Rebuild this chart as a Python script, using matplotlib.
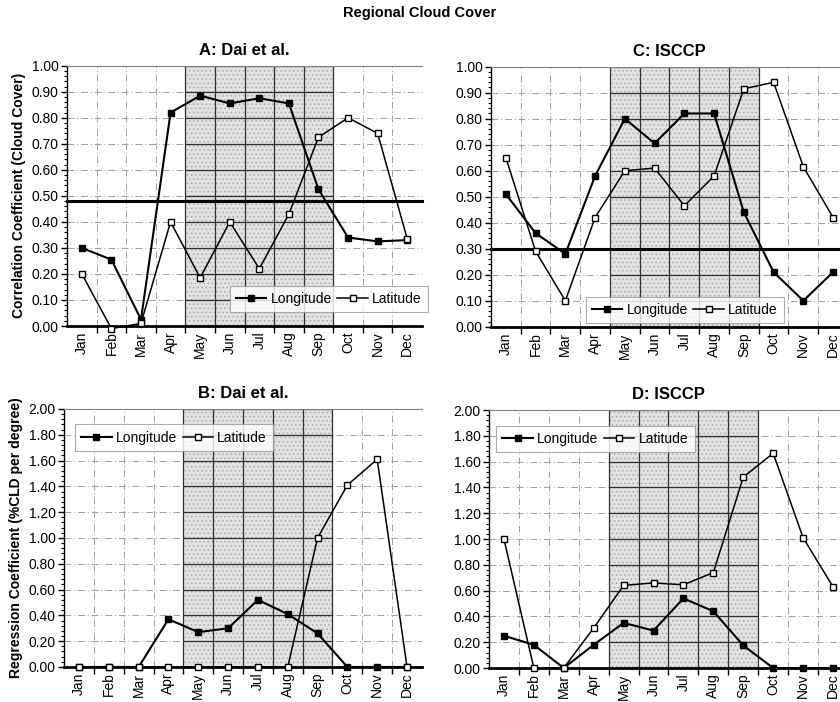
import numpy as np
import matplotlib
matplotlib.use("Agg")
import matplotlib.pyplot as plt
from matplotlib.ticker import MultipleLocator, FixedLocator

plt.rcParams['font.family'] = ['Liberation Sans', 'DejaVu Sans']
plt.rcParams['hatch.color'] = '#9a9a9a'
plt.rcParams['hatch.linewidth'] = 0.6

months = ['Jan', 'Feb', 'Mar', 'Apr', 'May', 'Jun', 'Jul', 'Aug', 'Sep', 'Oct', 'Nov', 'Dec']

# A: Dai et al. correlation
dai_corr_lon = [0.30, 0.255, 0.025, 0.82, 0.885, 0.855, 0.875, 0.855, 0.525, 0.34, 0.325, 0.33]
dai_corr_lat = [0.20, -0.01, 0.01, 0.40, 0.185, 0.40, 0.22, 0.43, 0.725, 0.80, 0.74, 0.335]
# C: ISCCP correlation
isccp_corr_lon = [0.51, 0.36, 0.28, 0.58, 0.80, 0.705, 0.82, 0.82, 0.44, 0.21, 0.10, 0.21]
isccp_corr_lat = [0.65, 0.29, 0.10, 0.42, 0.60, 0.61, 0.465, 0.58, 0.915, 0.94, 0.615, 0.42]
# B: Dai et al. regression
dai_reg_lon = [0.0, 0.0, 0.0, 0.37, 0.27, 0.30, 0.52, 0.41, 0.26, 0.0, 0.0, 0.0]
dai_reg_lat = [0.0, 0.0, 0.0, 0.0, 0.0, 0.0, 0.0, 0.0, 1.00, 1.41, 1.61, 0.0]
# D: ISCCP regression
isccp_reg_lon = [0.25, 0.18, 0.0, 0.18, 0.35, 0.29, 0.54, 0.44, 0.175, 0.0, 0.0, 0.0]
isccp_reg_lat = [1.00, 0.0, 0.0, 0.31, 0.64, 0.66, 0.645, 0.74, 1.48, 1.665, 1.01, 0.63]

# significance thresholds on the correlation panels
dai_sig = 0.48
isccp_sig = 0.30

season = (3.5, 8.5)  # May..Sep shaded

fig = plt.figure(figsize=(8.4, 7.02), dpi=100)
fig.text(0.5, 0.981, 'Regional Cloud Cover', ha='center', va='center',
         fontsize=10.5, fontweight='bold')

# axes positions in figure fractions (right side runs off the page like the scan)
axA = fig.add_axes([0.0798, 0.5356, 0.4226, 0.3708])
axC = fig.add_axes([0.5845, 0.5346, 0.4250, 0.3704])
axB = fig.add_axes([0.0763, 0.0499, 0.4260, 0.3675])
axD = fig.add_axes([0.5821, 0.0484, 0.4274, 0.3675])


def panel(ax, title, lon, lat, ymax, ystep, minor, sig=None, legend_loc=None, ylabel=None):
    x = np.arange(len(months))
    ax.set_xlim(-0.5, 11.5)
    ax.set_ylim(0, ymax)

    # shaded season with stipple
    ax.axvspan(*season, facecolor='#e2e2e2', edgecolor='#a8a8a8', hatch='....',
               linewidth=0, zorder=0)

    # dash-dot grid outside the season, solid inside
    yticks = np.arange(0, ymax + 1e-9, ystep)
    bounds = np.arange(0.5, 11.5, 1.0)
    for yv in yticks[1:]:
        ax.axhline(yv, color='#a0a0a0', lw=0.7, ls=(0, (7, 3, 1, 3)), zorder=1)
        ax.hlines(yv, season[0], season[1], color='#303030', lw=0.9, zorder=1.5)
    for xv in bounds:
        if season[0] <= xv <= season[1]:
            ax.axvline(xv, color='#303030', lw=0.9, zorder=1.5)
        else:
            ax.axvline(xv, color='#a0a0a0', lw=0.7, ls=(0, (7, 3, 1, 3)), zorder=1)

    if sig is not None:
        ax.axhline(sig, color='black', lw=2.2, zorder=3, clip_on=False)

    ax.plot(x, lon, color='black', lw=1.5, marker='s', ms=5, mfc='black',
            mec='black', label='Longitude', zorder=4, clip_on=False)
    ax.plot(x, lat, color='black', lw=1.1, marker='s', ms=5, mfc='white',
            mec='black', mew=1.0, label='Latitude', zorder=5, clip_on=False)

    ax.set_title(title, fontsize=12, fontweight='bold', pad=8)

    ax.yaxis.set_major_locator(MultipleLocator(ystep))
    ax.yaxis.set_minor_locator(MultipleLocator(minor))
    ax.set_yticklabels(['%.2f' % v for v in ax.get_yticks()])
    ax.tick_params(axis='y', which='major', direction='out', length=4, width=1,
                   labelsize=10, pad=2)
    ax.tick_params(axis='y', which='minor', direction='out', length=2.5, width=0.8)

    ax.xaxis.set_major_locator(FixedLocator(bounds))
    ax.xaxis.set_minor_locator(FixedLocator(x))
    ax.set_xticklabels([''] * len(bounds))
    ax.set_xticklabels(months, minor=True, rotation=90)
    ax.tick_params(axis='x', which='major', direction='out', length=5, width=1)
    ax.tick_params(axis='x', which='minor', length=0, labelsize=10, pad=4)

    ax.spines['bottom'].set_linewidth(2.0)
    ax.spines['left'].set_linewidth(1.0)
    ax.spines['top'].set_color('#808080')
    ax.spines['top'].set_linestyle((0, (2, 1)))
    ax.spines['top'].set_linewidth(0.8)
    ax.spines['right'].set_visible(False)

    if ylabel:
        ax.set_ylabel(ylabel, fontsize=10, fontweight='bold', labelpad=4)

    if legend_loc is not None:
        leg = ax.legend(loc='upper left', bbox_to_anchor=legend_loc, ncol=2, fontsize=10,
                        frameon=True, fancybox=False, handlelength=2.2,
                        handletextpad=0.3, columnspacing=0.4, borderpad=0.45,
                        borderaxespad=0)
        leg.get_frame().set_edgecolor('#9a9a9a')
        leg.get_frame().set_linewidth(0.8)
        leg.set_zorder(6)


panel(axA, 'A: Dai et al.', dai_corr_lon, dai_corr_lat, 1.0, 0.1, 0.02,
      sig=dai_sig, legend_loc=(0.458, 0.155),
      ylabel='Correlation Coefficient (Cloud Cover)')
panel(axC, 'C: ISCCP', isccp_corr_lon, isccp_corr_lat, 1.0, 0.1, 0.02,
      sig=isccp_sig, legend_loc=(0.265, 0.115))
panel(axB, 'B: Dai et al.', dai_reg_lon, dai_reg_lat, 2.0, 0.2, 0.04,
      legend_loc=(0.03, 0.94),
      ylabel='Regression Coefficient (%CLD per degree)')
panel(axD, 'D: ISCCP', isccp_reg_lon, isccp_reg_lat, 2.0, 0.2, 0.04,
      legend_loc=(0.02, 0.94))

fig.savefig('out.png', dpi=100)
